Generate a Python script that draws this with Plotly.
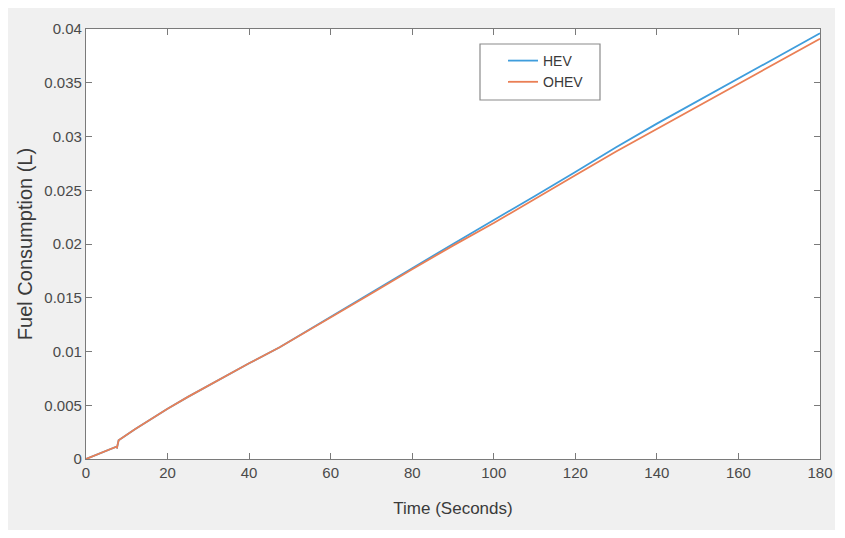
import plotly.graph_objects as go

# ---- data ----
time_s = [0, 7.3, 7.6, 8, 12, 16, 20, 25, 30, 35, 40, 47.5, 60, 70, 80, 90,
          100, 110, 120, 130, 140, 150, 160, 170, 180]
hev = [0, 0.00112, 0.00106, 0.00175, 0.00276, 0.00373, 0.00468, 0.00578,
       0.00683, 0.00787, 0.00890, 0.01040, 0.01320, 0.01545, 0.01775, 0.02000,
       0.02220, 0.02445, 0.02670, 0.02900, 0.03120, 0.03330, 0.03540, 0.03750,
       0.03960]
ohev = [0, 0.00112, 0.00106, 0.00175, 0.00276, 0.00373, 0.00468, 0.00578,
        0.00683, 0.00787, 0.00890, 0.01040, 0.01315, 0.01540, 0.01765, 0.01985,
        0.02195, 0.02420, 0.02640, 0.02860, 0.03070, 0.03280, 0.03490, 0.03700,
        0.03910]
series_names = ["HEV", "OHEV"]
x_ticks = [0, 20, 40, 60, 80, 100, 120, 140, 160, 180]
y_ticks = [0, 0.005, 0.01, 0.015, 0.02, 0.025, 0.03, 0.035, 0.04]
y_tick_labels = ["0", "0.005", "0.01", "0.015", "0.02", "0.025", "0.03", "0.035", "0.04"]
x_title = "Time (Seconds)"
y_title = "Fuel Consumption (L)"

FONT = "Liberation Sans, Arial, sans-serif"
AXIS_COL = "#7a7a7a"

fig = go.Figure()
fig.add_trace(go.Scatter(x=time_s, y=hev, mode="lines", name=series_names[0],
                         line=dict(color="#3f9ddc", width=1.8)))
fig.add_trace(go.Scatter(x=time_s, y=ohev, mode="lines", name=series_names[1],
                         line=dict(color="#ea7f55", width=1.8)))

# figure is placed 8px into the page by the body margin
OFF = 8
W, H = 827, 522
L, R, T, B = 78, 15, 21, 71
pw, ph = W - L - R, H - T - B

def px_x(p):  # page pixel -> paper x
    return (p - OFF - L) / pw

def px_y(p):  # page pixel -> paper y
    return (H - B - (p - OFF)) / ph

# legend frame
fig.add_shape(type="rect", xref="paper", yref="paper", layer="below",
              x0=px_x(480), x1=px_x(600), y0=px_y(100), y1=px_y(44),
              fillcolor="white", line=dict(color="#8a8a8a", width=1.2))

axis_common = dict(showline=True, linecolor=AXIS_COL, linewidth=1.2,
                   mirror="ticks", ticks="inside", ticklen=6, tickwidth=1.2,
                   tickcolor=AXIS_COL, showgrid=False, zeroline=False,
                   tickfont=dict(family=FONT, size=15, color="#4a4a4a"))

fig.update_xaxes(range=[0, 180], tickvals=x_ticks,
                 title=dict(text=x_title, font=dict(family=FONT, size=17, color="#3a3a3a"),
                            standoff=22),
                 **axis_common)
fig.update_yaxes(range=[0, 0.04], tickvals=y_ticks, ticktext=y_tick_labels,
                 title=dict(text=y_title, font=dict(family=FONT, size=20, color="#3a3a3a"),
                            standoff=6),
                 **axis_common)

fig.update_layout(
    width=W, height=H,
    margin=dict(l=L, r=R, t=T, b=B, autoexpand=False),
    paper_bgcolor="#f0f0f0", plot_bgcolor="white",
    font=dict(family=FONT, size=14, color="#3a3a3a"),
    legend=dict(x=px_x(503), y=px_y(45), xanchor="left", yanchor="top",
                bgcolor="rgba(0,0,0,0)", borderwidth=0,
                font=dict(family=FONT, size=14, color="#3a3a3a"),
                tracegroupgap=0),
    showlegend=True,
)

fig.write_html("out.html")
